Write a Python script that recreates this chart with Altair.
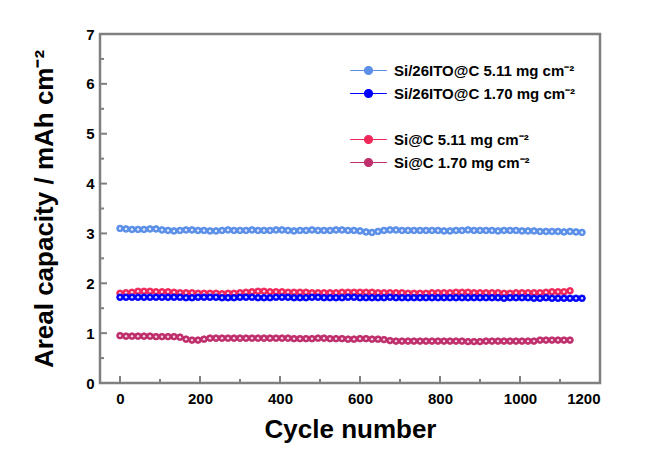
import altair as alt
import pandas as pd

ITO_511 = "Si/26ITO@C 5.11 mg cm⁻²"
ITO_170 = "Si/26ITO@C 1.70 mg cm⁻²"
SIC_511 = "Si@C 5.11 mg cm⁻²"
SIC_170 = "Si@C 1.70 mg cm⁻²"

cycles_ito = [0, 15, 30, 45, 60, 75, 90, 105, 120, 135,
              150, 165, 180, 195, 210, 225, 240, 255, 270, 285,
              300, 315, 330, 345, 360, 375, 390, 405, 420, 435,
              450, 465, 480, 495, 510, 525, 540, 555, 570, 585,
              600, 615, 630, 645, 660, 675, 690, 705, 720, 735,
              750, 765, 780, 795, 810, 825, 840, 855, 870, 885,
              900, 915, 930, 945, 960, 975, 990, 1005, 1020, 1035,
              1050, 1065, 1080, 1095, 1110, 1125, 1140, 1155]
cap_ito_511 = [3.10, 3.09, 3.08, 3.08, 3.08, 3.09, 3.09, 3.07, 3.06, 3.05,
               3.06, 3.07, 3.07, 3.06, 3.06, 3.05, 3.05, 3.06, 3.07, 3.06,
               3.06, 3.06, 3.07, 3.06, 3.06, 3.06, 3.07, 3.07, 3.06, 3.05,
               3.06, 3.06, 3.07, 3.06, 3.06, 3.06, 3.07, 3.07, 3.06, 3.06,
               3.05, 3.03, 3.02, 3.04, 3.06, 3.07, 3.07, 3.06, 3.06, 3.06,
               3.06, 3.06, 3.06, 3.06, 3.05, 3.05, 3.06, 3.06, 3.07, 3.06,
               3.06, 3.06, 3.06, 3.05, 3.06, 3.06, 3.06, 3.05, 3.05, 3.05,
               3.04, 3.04, 3.04, 3.04, 3.03, 3.04, 3.03, 3.02]
cap_ito_170 = [1.72, 1.72, 1.72, 1.72, 1.72, 1.72, 1.72, 1.72, 1.72, 1.72,
               1.72, 1.71, 1.71, 1.72, 1.72, 1.72, 1.72, 1.71, 1.71, 1.71,
               1.72, 1.72, 1.72, 1.71, 1.71, 1.71, 1.72, 1.72, 1.72, 1.71,
               1.71, 1.71, 1.72, 1.72, 1.71, 1.71, 1.71, 1.71, 1.72, 1.72,
               1.71, 1.71, 1.71, 1.71, 1.71, 1.72, 1.71, 1.71, 1.71, 1.71,
               1.71, 1.71, 1.71, 1.71, 1.71, 1.71, 1.71, 1.71, 1.71, 1.71,
               1.71, 1.71, 1.71, 1.71, 1.70, 1.71, 1.71, 1.71, 1.71, 1.70,
               1.70, 1.71, 1.70, 1.70, 1.70, 1.70, 1.70, 1.70]

cycles_sic = [0, 15, 30, 45, 60, 75, 90, 105, 120, 135,
              150, 165, 180, 195, 210, 225, 240, 255, 270, 285,
              300, 315, 330, 345, 360, 375, 390, 405, 420, 435,
              450, 465, 480, 495, 510, 525, 540, 555, 570, 585,
              600, 615, 630, 645, 660, 675, 690, 705, 720, 735,
              750, 765, 780, 795, 810, 825, 840, 855, 870, 885,
              900, 915, 930, 945, 960, 975, 990, 1005, 1020, 1035,
              1050, 1065, 1080, 1095, 1110, 1125]
cap_sic_511 = [1.80, 1.81, 1.82, 1.84, 1.84, 1.84, 1.83, 1.83, 1.83, 1.82,
               1.81, 1.81, 1.81, 1.80, 1.80, 1.80, 1.80, 1.79, 1.80, 1.80,
               1.81, 1.82, 1.83, 1.84, 1.84, 1.83, 1.83, 1.83, 1.82, 1.82,
               1.82, 1.82, 1.81, 1.81, 1.81, 1.81, 1.81, 1.82, 1.82, 1.82,
               1.82, 1.82, 1.82, 1.81, 1.81, 1.81, 1.81, 1.81, 1.80, 1.80,
               1.80, 1.80, 1.81, 1.81, 1.81, 1.81, 1.82, 1.82, 1.82, 1.81,
               1.81, 1.81, 1.81, 1.81, 1.80, 1.80, 1.81, 1.81, 1.81, 1.81,
               1.81, 1.82, 1.83, 1.83, 1.83, 1.85]
cap_sic_170 = [0.95, 0.94, 0.94, 0.94, 0.94, 0.94, 0.93, 0.93, 0.93, 0.93,
               0.92, 0.88, 0.86, 0.86, 0.88, 0.90, 0.90, 0.90, 0.90, 0.90,
               0.90, 0.90, 0.90, 0.90, 0.90, 0.90, 0.90, 0.90, 0.90, 0.89,
               0.89, 0.89, 0.89, 0.90, 0.90, 0.89, 0.89, 0.89, 0.88, 0.88,
               0.89, 0.89, 0.88, 0.88, 0.87, 0.85, 0.84, 0.84, 0.84, 0.84,
               0.84, 0.84, 0.84, 0.84, 0.84, 0.84, 0.84, 0.84, 0.83, 0.83,
               0.83, 0.84, 0.84, 0.84, 0.84, 0.84, 0.84, 0.84, 0.84, 0.84,
               0.86, 0.86, 0.86, 0.86, 0.86, 0.86]

ito_names = [ITO_511, ITO_170]
ito_colors = ["#5b8fe8", "#0000ff"]
sic_names = [SIC_511, SIC_170]
sic_colors = ["#f0285a", "#bf2f6c"]

x_major = [0, 200, 400, 600, 800, 1000, 1200]
x_minor = [100, 300, 500, 700, 900, 1100]
y_major = [0, 1, 2, 3, 4, 5, 6, 7]
y_minor = [0.5, 1.5, 2.5, 3.5, 4.5, 5.5, 6.5]

df_ito = pd.concat([
    pd.DataFrame({"cycle": cycles_ito, "cap": cap_ito_511, "series": ITO_511}),
    pd.DataFrame({"cycle": cycles_ito, "cap": cap_ito_170, "series": ITO_170}),
])
df_sic = pd.concat([
    pd.DataFrame({"cycle": cycles_sic, "cap": cap_sic_511, "series": SIC_511}),
    pd.DataFrame({"cycle": cycles_sic, "cap": cap_sic_170, "series": SIC_170}),
])

FONT = "Liberation Sans"
GRAY = "#808080"
W, H = 500, 349
MAJ, MIN = 7, 4

xscale = alt.Scale(domain=[-50, 1200], nice=False, zero=False)
yscale = alt.Scale(domain=[0, 7], nice=False)

SYMBOL = "M-4.6,0L4.6,0M-1,0A1,1,0,1,1,1,0A1,1,0,1,1,-1,0Z"


def legend(y):
    return alt.Legend(
        orient="none", legendX=261, legendY=y, title=None, padding=0,
        symbolType=SYMBOL, symbolSize=64, symbolStrokeWidth=1.2, symbolOpacity=1,
        labelFont=FONT, labelFontSize=15, labelFontWeight="bold", labelColor="black",
        labelOffset=18, rowPadding=7, labelLimit=400,
    )


main_x_axis = alt.Axis(
    values=x_major, format="d", title="Cycle number", ticks=False, domain=False, grid=False,
    labelFont=FONT, labelFontSize=15, labelFontWeight="bold", labelColor="black",
    labelPadding=8, titleFont=FONT, titleFontSize=26, titleFontWeight="bold",
    titleColor="black", titlePadding=10,
)
main_y_axis = alt.Axis(
    values=y_major, format="d", title="Areal capacity / mAh cm⁻²", ticks=False, domain=False,
    grid=False, labelFont=FONT, labelFontSize=15, labelFontWeight="bold", labelColor="black",
    labelPadding=6, titleFont=FONT, titleFontSize=26, titleFontWeight="bold",
    titleColor="black", titlePadding=28,
)

X = lambda f: alt.X(f, scale=xscale, axis=main_x_axis)
Y = lambda f: alt.Y(f, scale=yscale, axis=main_y_axis)


# inward ticks (bottom and left), positioned through the shared scales
def xticks(vals, length):
    return alt.Chart(pd.DataFrame({"cycle": vals})).mark_rule(color=GRAY, strokeWidth=2).encode(
        x=X("cycle:Q"), y=alt.value(H), y2=alt.value(H - length),
    )


def yticks(vals, length):
    return alt.Chart(pd.DataFrame({"cap": vals})).mark_rule(color=GRAY, strokeWidth=2).encode(
        y=Y("cap:Q"), x=alt.value(0), x2=alt.value(length),
    )


def points(df, names, colors, ly):
    sc = alt.Scale(domain=names, range=colors)
    return alt.Chart(df).mark_point(
        shape="circle", filled=True, size=45, strokeWidth=0.8, opacity=1
    ).encode(
        x=X("cycle:Q"), y=Y("cap:Q"),
        fill=alt.Fill("series:N", scale=sc, legend=legend(ly)),
        stroke=alt.Stroke("series:N", scale=sc, legend=legend(ly)),
    )


def highlights(df):
    return alt.Chart(df).mark_point(
        shape="circle", filled=True, size=6, color="white", opacity=0.8
    ).encode(x=X("cycle:Q"), y=Y("cap:Q"))


chart = alt.layer(
    points(df_sic, sic_names, sic_colors, 98), highlights(df_sic),
    points(df_ito, ito_names, ito_colors, 29), highlights(df_ito),
    xticks(x_major, MAJ), xticks(x_minor, MIN), yticks(y_major, MAJ), yticks(y_minor, MIN),
).resolve_scale(
    fill="independent", stroke="independent"
).properties(
    width=W, height=H,
    autosize=alt.AutoSizeParams(type="none"),
    padding={"left": 92, "top": 26, "right": 61, "bottom": 61},
    background="white",
).configure_view(
    stroke=GRAY, strokeWidth=2.5
)

chart.save("out.html", embed_options={"renderer": "svg", "actions": False})
